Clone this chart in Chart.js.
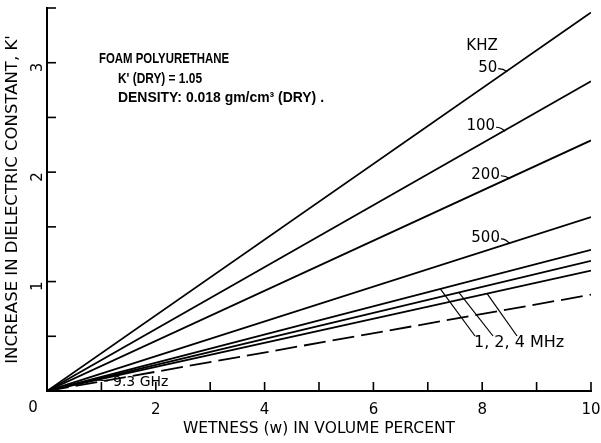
<!DOCTYPE html>
<html><head><meta charset="utf-8">
<script src="https://cdn.jsdelivr.net/npm/chart.js@4/dist/chart.umd.min.js"></script>
<style>html,body{margin:0;padding:0;background:#fff}#wrap{width:601px;height:443px;position:relative}</style>
</head><body><div id="wrap"><canvas id="c" width="601" height="443"></canvas></div>
<script>
// ---- data ----
const wetness = [0, 10];                  // volume percent
const k50kHz  = [0, 3.46];
const k100kHz = [0, 2.83];
const k200kHz = [0, 2.29];
const k500kHz = [0, 1.59];
const k1MHz   = [0, 1.29];
const k2MHz   = [0, 1.19];
const k4MHz   = [0, 1.10];
const k93GHz  = [0, 0.88];
const seriesNames = ['50', '100', '200', '500', '1 MHz', '2 MHz', '4 MHz', '9.3 GHz'];
const xTickLabels = [2, 4, 6, 8, 10];
const yTickLabels = [1, 2, 3];
const noteLines = ['FOAM POLYURETHANE', "K' (DRY) = 1.05", 'DENSITY: 0.018 gm/cm³ (DRY) .'];

const allSeries = [k50kHz, k100kHz, k200kHz, k500kHz, k1MHz, k2MHz, k4MHz, k93GHz];
const pts = arr => wetness.map((w, i) => ({x: w, y: arr[i]}));

const FONT = '"DejaVu Sans", "Liberation Sans", sans-serif';

const datasets = allSeries.map((arr, i) => ({
  label: seriesNames[i],
  data: pts(arr),
  borderColor: '#000',
  borderWidth: 1.8,
  pointRadius: 0,
  borderDash: i === 7 ? [22, 7] : [],
  fill: false,
  tension: 0
}));

const zeroPad = s => { s.paddingTop = 0; s.paddingBottom = 0; s.paddingLeft = 0; s.paddingRight = 0; };

const deco = {
  id: 'deco',
  afterDraw(chart) {
    const {ctx, scales: {x, y}} = chart;
    const seg = (a, b, c, d) => { ctx.beginPath(); ctx.moveTo(a, b); ctx.lineTo(c, d); ctx.stroke(); };
    ctx.save();
    ctx.strokeStyle = '#000';
    ctx.fillStyle = '#000';
    ctx.lineWidth = 1.6;
    // inward ticks
    for (let v = 1; v <= 10; v++) { const px = x.getPixelForValue(v); seg(px, y.bottom, px, y.bottom - 9); }
    for (let v = 0.5; v <= 3.5; v += 0.5) { const py = y.getPixelForValue(v); seg(x.left, py, x.left + 9, py); }
    // origin label
    ctx.font = '15px ' + FONT;
    ctx.textAlign = 'center'; ctx.textBaseline = 'middle';
    ctx.fillText('0', x.left - 14, y.bottom + 17);

    // frequency labels with small hook leaders
    const onLine = (arr, xv) => ({ px: x.getPixelForValue(xv), py: y.getPixelForValue(arr[1] * xv / wetness[1]) });
    ctx.font = '15px ' + FONT;
    ctx.textAlign = 'center';
    ctx.fillText('KHZ', 482, 46);
    const hooks = [[k50kHz, '50', 8.46, -3], [k100kHz, '100', 8.42, -4], [k200kHz, '200', 8.51, -3], [k500kHz, '500', 8.51, -5]];
    ctx.lineWidth = 1.2;
    hooks.forEach(([arr, txt, xv, dy]) => {
      const p = onLine(arr, xv);
      ctx.textAlign = 'right';
      ctx.fillText(txt, p.px - 10, p.py + dy);
      ctx.beginPath();
      ctx.moveTo(p.px - 9, p.py + dy + 1);
      ctx.quadraticCurveTo(p.px - 4, p.py + dy + 1, p.px, p.py + 1);
      ctx.stroke();
    });

    // MHz leaders
    const mhz = [[k1MHz, 7.23, 475], [k2MHz, 7.57, 493], [k4MHz, 8.09, 517]];
    mhz.forEach(([arr, xv, ex]) => {
      const p = onLine(arr, xv);
      seg(p.px, p.py, ex, 336);
    });
    ctx.font = '16px ' + FONT;
    ctx.textAlign = 'left';
    ctx.fillText('1, 2, 4 MHz', 474, 343);

    // 9.3 GHz label
    ctx.font = '14px ' + FONT;
    ctx.fillText(seriesNames[7], 113, 382);
    seg(97, 380, 108, 381);

    // note block (condensed lettering)
    ctx.font = 'bold 15px "Liberation Sans", Arial, sans-serif';
    ctx.textAlign = 'left';
    ctx.fillText(noteLines[0], 99, 59, 130);
    ctx.fillText(noteLines[1], 118, 79, 84);
    ctx.fillText(noteLines[2], 118, 98, 206);
    ctx.restore();
  }
};

new Chart(document.getElementById('c'), {
  type: 'line',
  data: { datasets },
  options: {
    responsive: false,
    animation: false,
    events: [],
    layout: { padding: { top: 8, right: 10, left: 0, bottom: 0 } },
    plugins: { legend: { display: false }, tooltip: { enabled: false } },
    scales: {
      x: {
        type: 'linear', min: 0, max: 10,
        afterFit: s => { s.height = 52; zeroPad(s); },
        grid: { display: false, drawTicks: false },
        border: { display: true, color: '#000', width: 2 },
        ticks: {
          stepSize: 2, padding: 10, color: '#000',
          font: { family: FONT, size: 15 },
          callback: v => xTickLabels.includes(v) ? String(v) : ''
        },
        title: { display: true, text: 'WETNESS (w) IN VOLUME PERCENT', color: '#000',
                 font: { family: FONT, size: 15.5 }, padding: { top: 0, bottom: 5 } }
      },
      y: {
        type: 'linear', min: 0, max: 3.5,
        afterFit: s => { s.width = 47; zeroPad(s); },
        grid: { display: false, drawTicks: false },
        border: { display: true, color: '#000', width: 2 },
        ticks: {
          stepSize: 0.5, padding: 9, color: '#000', minRotation: 90, maxRotation: 90,
          font: { family: FONT, size: 15 },
          callback: v => yTickLabels.includes(v) ? String(v) : ''
        },
        title: { display: true, text: "INCREASE IN DIELECTRIC CONSTANT, K'", color: '#000',
                 font: { family: FONT, size: 16.5 }, padding: { top: 3, bottom: 0 } }
      }
    }
  },
  plugins: [deco]
});
</script></body></html>
